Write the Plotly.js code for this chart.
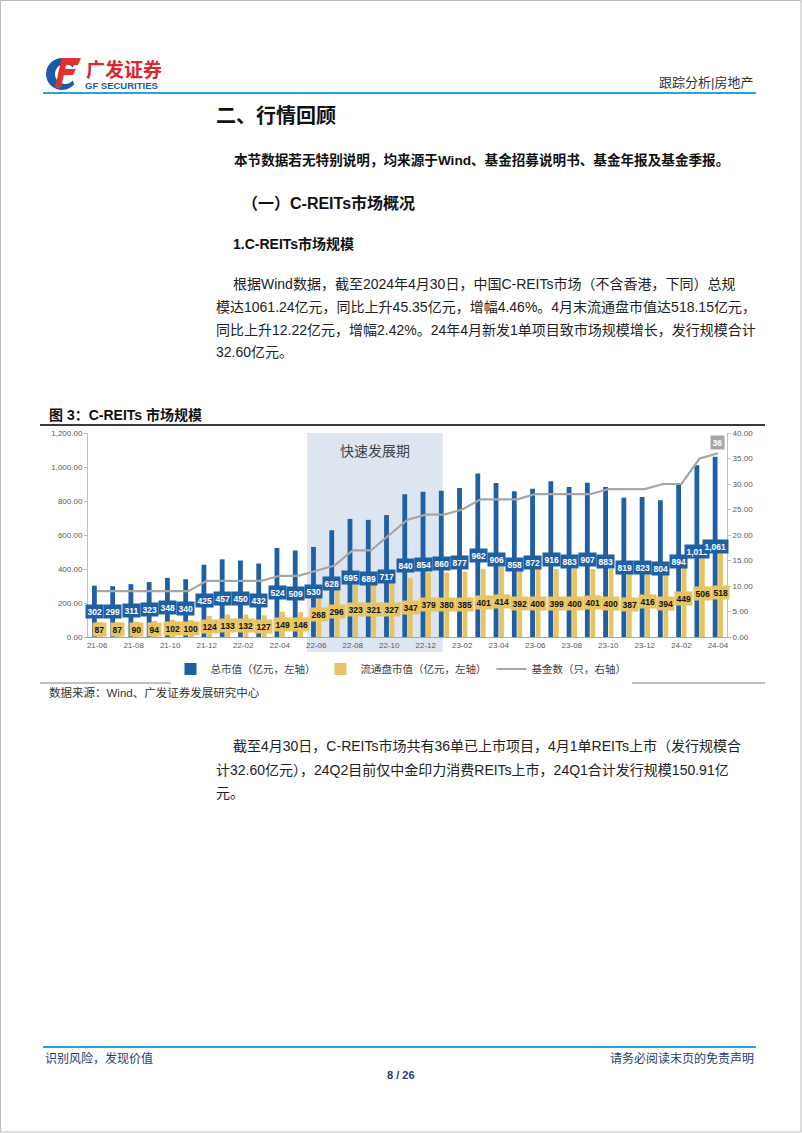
<!DOCTYPE html>
<html><head><meta charset="utf-8">
<script src="https://cdn.plot.ly/plotly-3.0.1.min.js"></script>
<style>html,body{margin:0;padding:0;background:#fff}#chart{width:802px;height:1133px}</style>
</head><body><div id="chart"></div>
<script>
// ---- data ----
const months = ['21-06','21-07','21-08','21-09','21-10','21-11','21-12','22-01','22-02','22-03','22-04','22-05',
 '22-06','22-07','22-08','22-09','22-10','22-11','22-12','23-01','23-02','23-03','23-04','23-05',
 '23-06','23-07','23-08','23-09','23-10','23-11','23-12','24-01','24-02','24-03','24-04'];
const totalValue = [302,299,311,323,348,340,425,457,450,432,524,509,530,628,695,689,717,840,854,860,877,962,906,858,872,916,883,907,883,819,823,804,894,1011,1061];
const floatValue = [87,87,90,94,102,100,124,133,132,127,149,146,268,296,323,321,327,347,379,380,385,401,414,392,400,399,400,401,400,387,416,394,449,506,518];
const fundCount = [9,9,9,9,9,9,11,11,11,11,12,12,13,14,17,17,20,23,24,24,25,27,27,27,28,28,28,28,29,29,29,30,30,35,36];
const tickLabels = months.filter((m,i)=>i%2===0);
const seriesNames = ['总市值（亿元，左轴）','流通盘市值（亿元，左轴）','基金数（只，右轴）'];
const shadeFrom = '22-06', shadeTo = '22-12', shadeLabel = '快速发展期';

// ---- page geometry helpers ----
const W=802,H=1133;
const px=x=>x/W, py=y=>1-y/H;
const CJK = '"Liberation Sans","Noto Sans CJK SC",sans-serif';
const BLUE='#1f5fa3', YEL='#e6c462', GRAY='#a6a6a6';

const ann=[];
function txt(x,y,t,o={}){ann.push(Object.assign({xref:'paper',yref:'paper',x:px(x),y:py(y),text:t,showarrow:false,
  xanchor:'left',yanchor:'middle',font:Object.assign({family:CJK,size:14,color:'#222'},o.font||{})},o.a||{}));}

// header
txt(84,70,'<b>广发证券</b>',{font:{size:19,color:'#d9262f'}});
txt(83,86,'<b>GF SECURITIES</b>',{font:{size:9.5,color:'#1d5aa6'}});
txt(755,82,'跟踪分析|房地产',{font:{size:13,color:'#333'},a:{xanchor:'right'}});
txt(214,116,'<b>二、行情回顾</b>',{font:{size:20,color:'#111'}});
txt(232,160,'<b>本节数据若无特别说明，均来源于Wind、基金招募说明书、基金年报及基金季报。</b>',{font:{size:13.6,color:'#111'}});
txt(240,203,'<b>（一）C-REITs市场概况</b>',{font:{size:16,color:'#111'}});
txt(231,244,'<b>1.C-REITs市场规模</b>',{font:{size:14,color:'#111'}});
txt(231,284,'根据Wind数据，截至2024年4月30日，中国C-REITs市场（不含香港，下同）总规');
txt(214,307,'模达1061.24亿元，同比上升45.35亿元，增幅4.46%。4月末流通盘市值达518.15亿元，');
txt(214,330,'同比上升12.22亿元，增幅2.42%。24年4月新发1单项目致市场规模增长，发行规模合计');
txt(214,352,'32.60亿元。');
// figure title & source
txt(47,415,'<b>图 3：C-REITs 市场规模</b>',{font:{size:14,color:'#111'}});
txt(47,692,'数据来源：Wind、广发证券发展研究中心',{font:{size:11.5,color:'#333'}});
// after chart paragraph
txt(231,746,'截至4月30日，C-REITs市场共有36单已上市项目，4月1单REITs上市（发行规模合');
txt(214,770,'计32.60亿元），24Q2目前仅中金印力消费REITs上市，24Q1合计发行规模150.91亿');
txt(214,793,'元。');
// footer
txt(43,1058,'识别风险，发现价值',{font:{size:12,color:'#1f3b73'}});
txt(756,1058,'请务必阅读末页的免责声明',{font:{size:12,color:'#1f3b73'},a:{xanchor:'right'}});
txt(401,1075,'<b>8 / 26</b>',{font:{size:11,color:'#1f3b73'},a:{xanchor:'center'}});

// shaded label
ann.push({xref:'x',yref:'paper',x:(months.indexOf(shadeFrom)+months.indexOf(shadeTo))/2+0.2,y:py(450),text:shadeLabel,
  showarrow:false,font:{family:'"Noto Sans CJK SC",sans-serif',size:14,color:'#444'}});

// bar value labels
const fmt=v=>v.toLocaleString('en-US');
months.forEach((m,i)=>{
  ann.push({xref:'x',yref:'y',x:m,y:totalValue[i]/2,xshift:-2.5,text:'<b>'+fmt(totalValue[i])+'</b>',showarrow:false,
    bgcolor:BLUE,borderpad:1.5,font:{family:'"Liberation Sans",sans-serif',size:8.5,color:'#fff'}});
  ann.push({xref:'x',yref:'y',x:m,y:floatValue[i]/2,xshift:2.5,text:'<b>'+fmt(floatValue[i])+'</b>',showarrow:false,
    bgcolor:YEL,borderpad:1.5,font:{family:'"Liberation Sans",sans-serif',size:8.5,color:'#111'}});
});
// last fund count label
const li=months.length-1;
ann.push({xref:'x',yref:'y2',x:months[li],y:fundCount[li],yshift:11,text:'<b>'+fundCount[li]+'</b>',showarrow:false,
  bgcolor:'#a6a6a6',borderpad:1.5,font:{family:'"Liberation Sans",sans-serif',size:8.5,color:'#fff'}});

// shapes
const shapes=[];
function hline(x0,x1,y,color,w){shapes.push({type:'line',xref:'paper',yref:'paper',x0:px(x0),x1:px(x1),y0:py(y),y1:py(y),line:{color:color,width:w}});}
hline(43,756,93,'#2aa3dc',2);
hline(43,756,1047,'#2aa3dc',2);
hline(40,765,425,'#3a3a3a',2);
hline(40,765,683,'#7f7f7f',1);
// page border
shapes.push({type:'rect',xref:'paper',yref:'paper',x0:px(0.5),x1:px(801),y0:py(1132),y1:py(0.5),line:{color:'#bbb',width:1}});
// shaded period
shapes.push({type:'rect',xref:'x',yref:'paper',x0:months.indexOf(shadeFrom)-0.5,x1:months.indexOf(shadeTo)+0.92,
  y0:py(652),y1:py(433),fillcolor:'#dce5f0',line:{width:0},layer:'below'});
// logo
function poly(pts,color){shapes.push({type:'path',xref:'paper',yref:'paper',
  path:'M'+pts.map(p=>px(p[0])+','+py(p[1])).join(' L')+' Z',fillcolor:color,line:{width:0}});}
(function(){const cx=62,cy=74,R=16,r=10;const pts=[];
  for(let a=-40;a>=-320;a-=10){const t=a*Math.PI/180;pts.push([cx+R*Math.cos(t),cy-R*Math.sin(t)*1.0]);}
  for(let a=-320;a<=-40;a+=10){const t=a*Math.PI/180;pts.push([cx+3+r*Math.cos(t),cy-r*Math.sin(t)]);}
  poly(pts,'#1d5aa6');})();
poly([[62,58],[81,58],[78,65],[60,65]],'#e0332d');
poly([[60,69],[76,69],[73,75],[58,75]],'#e0332d');
poly([[60,65],[66,65],[61,88],[55,88]],'#e0332d');

const traces=[
 {type:'bar',name:seriesNames[0],x:months,y:totalValue,marker:{color:BLUE},hoverinfo:'skip'},
 {type:'bar',name:seriesNames[1],x:months,y:floatValue,marker:{color:YEL},hoverinfo:'skip'},
 {type:'scatter',mode:'lines',name:seriesNames[2],x:months,y:fundCount,yaxis:'y2',line:{color:GRAY,width:2.2},hoverinfo:'skip'}
];
const axFont={family:'"Liberation Sans",sans-serif',size:8,color:'#595959'};
const layout={
 width:W,height:H,margin:{l:0,r:0,t:0,b:0},paper_bgcolor:'#fff',plot_bgcolor:'rgba(0,0,0,0)',
 barmode:'group',bargap:0.4,bargroupgap:0.12,showlegend:true,
 legend:{orientation:'h',x:0.5,xanchor:'center',y:py(669),yanchor:'middle',font:{family:'"Noto Sans CJK SC",sans-serif',size:10.5,color:'#404040'},itemwidth:30,tracegroupgap:0},
 xaxis:{domain:[px(88),px(727)],anchor:'y',type:'category',range:[-0.5,months.length-0.5],tickvals:tickLabels,ticktext:tickLabels,
   tickfont:axFont,showline:true,linecolor:'#a6a6a6',linewidth:1,ticks:'',showgrid:false,zeroline:false,tickangle:0},
 yaxis:{domain:[py(637),py(433)],range:[0,1200],dtick:200,tickformat:',.2f',tickfont:axFont,showline:true,linecolor:'#bfbfbf',
   ticks:'outside',ticklen:3,tickcolor:'#bfbfbf',showgrid:false,zeroline:false},
 yaxis2:{overlaying:'y',side:'right',anchor:'x',range:[0,40],dtick:5,tickformat:'.2f',tickfont:axFont,showline:true,linecolor:'#bfbfbf',
   ticks:'outside',ticklen:3,tickcolor:'#bfbfbf',showgrid:false,zeroline:false},
 annotations:ann,shapes:shapes
};
Plotly.newPlot('chart',traces,layout,{staticPlot:true,displayModeBar:false});
</script></body></html>
